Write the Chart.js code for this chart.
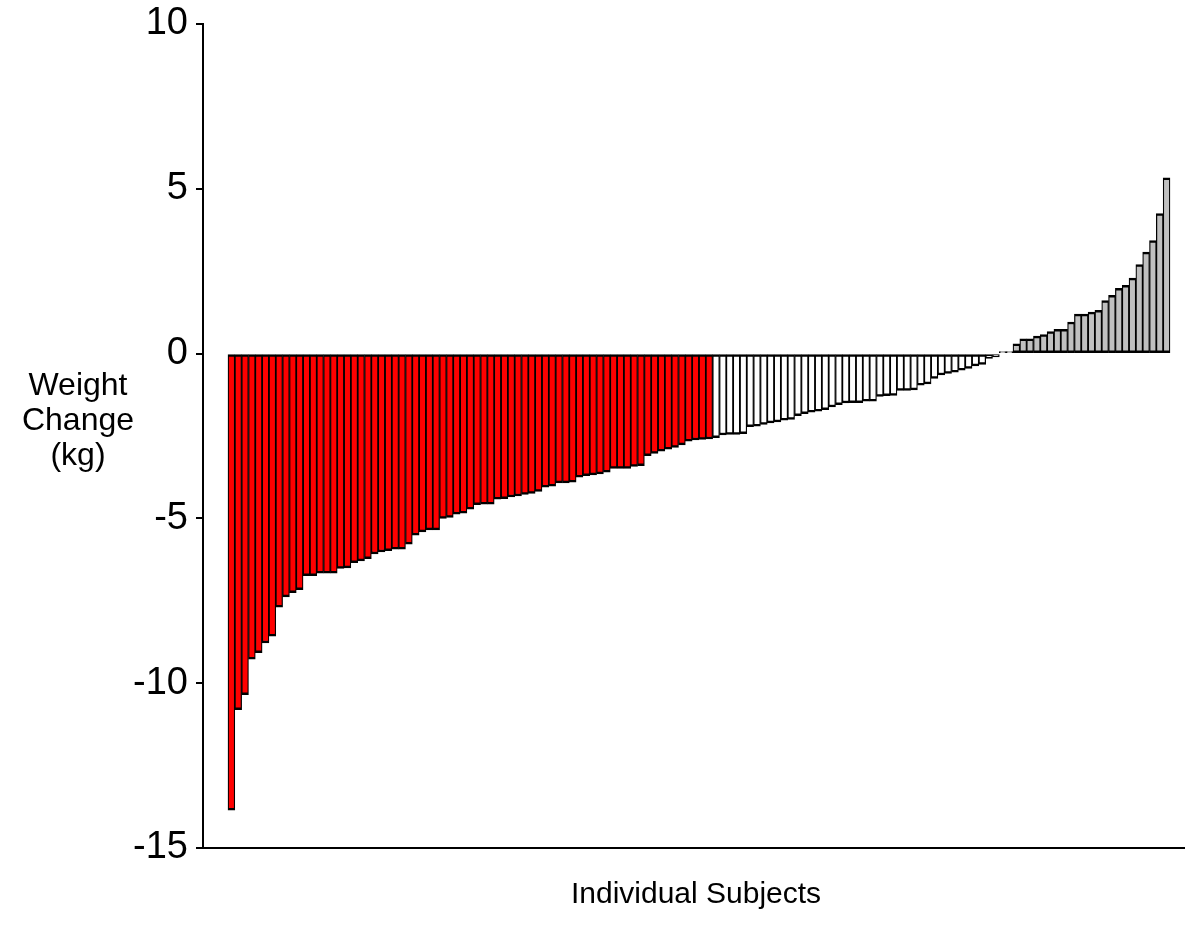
<!DOCTYPE html>
<html>
<head>
<meta charset="utf-8">
<script src="https://cdn.jsdelivr.net/npm/chart.js@4.4.1/dist/chart.umd.min.js"></script>
<style>
  html, body { margin: 0; padding: 0; background: #ffffff; }
  #wrap { width: 1185px; height: 938px; position: relative; }
</style>
</head>
<body>
<div id="wrap"><canvas id="c" width="1185" height="938"></canvas></div>
<script>
// ---- Data ----
// Weight change (kg) per subject, sorted; three response groups
const redValues = [
  -13.85, -10.8, -10.35, -9.27, -9.07, -8.78, -8.57, -7.69, -7.38, -7.25,
  -7.16, -6.74, -6.74, -6.66, -6.66, -6.66, -6.52, -6.5, -6.34, -6.29,
  -6.22, -6.08, -6.02, -5.98, -5.93, -5.93, -5.78, -5.51, -5.41, -5.35,
  -5.35, -5.0, -4.97, -4.87, -4.84, -4.72, -4.58, -4.57, -4.57, -4.42,
  -4.4, -4.35, -4.32, -4.27, -4.24, -4.18, -4.05, -4.02, -3.92, -3.92,
  -3.9, -3.75, -3.7, -3.68, -3.65, -3.6, -3.48, -3.48, -3.48, -3.42,
  -3.4, -3.1, -3.03, -2.96, -2.9, -2.85, -2.77, -2.66, -2.62, -2.6, -2.59
];
const whiteValues = [
  -2.55, -2.47, -2.45, -2.45, -2.43, -2.22, -2.2, -2.15, -2.1, -2.07,
  -2.02, -2.0, -1.88, -1.82, -1.78, -1.75, -1.7, -1.62, -1.55, -1.5,
  -1.49, -1.49, -1.44, -1.44, -1.3, -1.28, -1.27, -1.12, -1.12, -1.1,
  -0.96, -0.92, -0.75, -0.65, -0.6, -0.56, -0.5, -0.45, -0.37, -0.33,
  -0.15, -0.1, 0.06, 0.06
];
const grayValues = [
  0.3, 0.45, 0.45, 0.53, 0.58, 0.67, 0.74, 0.74, 0.96, 1.2,
  1.2, 1.26, 1.31, 1.61, 1.77, 1.98, 2.07, 2.29, 2.7, 3.08,
  3.43, 4.25, 5.33
];
const yTicks = [-15, -10, -5, 0, 5, 10];
const yTitleLines = ['Weight', 'Change', '(kg)'];
const xTitle = 'Individual Subjects';
const groupColors = ['#ff0000', '#ffffff', '#c0c0c0'];

// ---- Build the table the library needs ----
const allValues = [...redValues, ...whiteValues, ...grayValues];
const subjects = allValues.map((_, i) => i + 1);
const points = allValues.map((v, i) => ({ x: subjects[i], y: v }));
const colors = [
  ...redValues.map(() => groupColors[0]),
  ...whiteValues.map(() => groupColors[1]),
  ...grayValues.map(() => groupColors[2])
];

const FONT = "'Liberation Sans', Arial, Helvetica, sans-serif";

const titlesPlugin = {
  id: 'titles',
  afterDraw(chart) {
    const ctx = chart.ctx;
    const ca = chart.chartArea;
    ctx.save();
    ctx.fillStyle = '#000000';
    ctx.textAlign = 'center';
    ctx.textBaseline = 'middle';
    ctx.font = '30px ' + FONT;
    ctx.fillText(xTitle, (ca.left + ca.right) / 2 + 2, 895);
    ctx.font = '32px ' + FONT;
    const cx = 78, cy = 421, lh = 35;
    yTitleLines.forEach((t, i) => {
      ctx.fillText(t, cx, cy + (i - 1) * lh);
    });
    ctx.restore();
  }
};

new Chart(document.getElementById('c'), {
  type: 'bar',
  data: {
    datasets: [{
      data: points,
      backgroundColor: colors,
      borderColor: '#000000',
      borderWidth: { left: 1.25, right: 1.25, top: 2.5, bottom: 2.5 },
      borderSkipped: false,
      barPercentage: 1.0,
      categoryPercentage: 1.0
    }]
  },
  options: {
    responsive: false,
    animation: false,
    devicePixelRatio: 1,
    layout: { padding: { top: 24, bottom: 90, left: 0, right: 0 } },
    plugins: {
      legend: { display: false },
      tooltip: { enabled: false }
    },
    scales: {
      x: {
        type: 'linear',
        offset: false,
        min: -3.16,
        max: subjects.length + 2.7,
        grid: { display: false, drawTicks: false },
        border: { display: true, color: '#000000', width: 2 },
        ticks: { display: false },
        afterFit(scale) { scale.height = 0; }
      },
      y: {
        min: yTicks[0],
        max: yTicks[yTicks.length - 1],
        afterBuildTicks(scale) { scale.ticks = yTicks.map(v => ({ value: v })); },
        grid: {
          display: true,
          drawOnChartArea: false,
          drawTicks: true,
          tickLength: 7,
          color: '#000000',
          lineWidth: 2
        },
        border: { display: true, color: '#000000', width: 2 },
        ticks: {
          color: '#000000',
          padding: 8,
          font: { family: FONT, size: 38, lineHeight: 0.7 }
        },
        afterFit(scale) { scale.width = 203; }
      }
    }
  },
  plugins: [titlesPlugin]
});
</script>
</body>
</html>
